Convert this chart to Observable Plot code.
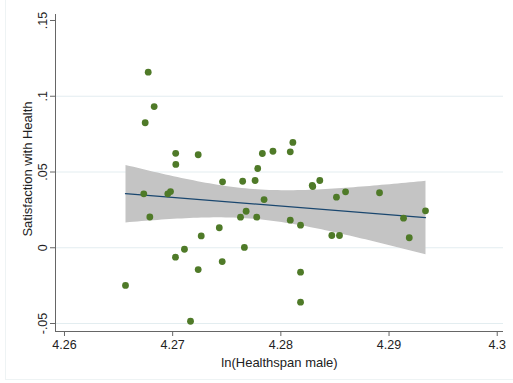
<!DOCTYPE html>
<html><head><meta charset="utf-8">
<script src="https://cdn.jsdelivr.net/npm/d3@7"></script>
<script src="https://cdn.jsdelivr.net/npm/@observablehq/plot@0.6"></script>
<style>
body{margin:0;background:#fff;}
#c{position:relative;width:513px;height:383px;overflow:hidden;}
#c svg{display:block;}
#frame{position:absolute;left:5px;top:-2px;width:520px;height:382px;border-left:1px solid #eef3f4;border-bottom:1px solid #eef3f4;box-sizing:border-box;pointer-events:none;}
</style>
</head><body><div id="c"><div id="frame"></div></div>
<script>
const healthspan = [4.26564,4.26774,4.26829,4.26746,4.26733,4.26789,4.27028,4.27029,4.26955,4.26980,
  4.27026,4.27109,4.27165,4.27236,4.27264,4.27236,4.27461,4.27431,4.27458,4.27647,
  4.27627,4.27679,4.27663,4.27762,4.27786,4.27829,4.27927,4.27845,4.27777,4.28087,
  4.28111,4.28087,4.28182,4.28182,4.28182,4.28290,4.28295,4.28360,4.28471,4.28542,
  4.28514,4.28598,4.28912,4.29134,4.29187,4.29337];
const satisfaction = [-0.0249,0.1159,0.0932,0.0825,0.0356,0.0203,0.0623,0.0550,0.0356,0.0371,
  -0.0062,-0.0010,-0.0485,0.0614,0.0078,-0.0144,0.0435,0.0132,-0.0091,0.0439,
  0.0202,0.0241,0.0002,0.0444,0.0523,0.0622,0.0637,0.0318,0.0202,0.0633,
  0.0695,0.0182,0.0149,-0.0161,-0.0359,0.0412,0.0404,0.0444,0.0081,0.0081,
  0.0334,0.0369,0.0363,0.0195,0.0066,0.0244];
const xTicks = [4.26, 4.27, 4.28, 4.29, 4.3];
const yTicks = [-0.05, 0, 0.05, 0.1, 0.15];
const gridTicks = [-0.05, 0, 0.05, 0.1];
const xLabel = "ln(Healthspan male)";
const yLabel = "Satisfaction with Health";

const data = healthspan.map((x, i) => ({x, y: satisfaction[i]}));
const fmtY = d => d === 0 ? "0" : String(d).replace("0.", ".");
const xDom = [4.25917, 4.30058];
const yDom = [-0.05528, 0.15396];
const axisColor = "#666";

const chart = Plot.plot({
  width: 513,
  height: 383,
  marginLeft: 55,
  marginRight: 10,
  marginTop: 14,
  marginBottom: 52,
  style: {fontFamily: "'Liberation Sans', Arial, sans-serif", fontSize: "12px", color: "#222", background: "#fff"},
  x: {domain: xDom},
  y: {domain: yDom},
  marks: [
    Plot.ruleY(gridTicks, {stroke: "#e3edf0", strokeWidth: 1}),
    Plot.linearRegressionY(data, {x: "x", y: "y", ci: 0.95, fill: "#c4c4c4", fillOpacity: 1, stroke: "#1a476f", strokeWidth: 1.3}),
    Plot.dot(data, {x: "x", y: "y", r: 3.4, fill: "#4f7a28", stroke: "none"}),
    Plot.ruleX([xDom[0]], {stroke: axisColor, strokeWidth: 1}),
    Plot.ruleY([yDom[0]], {stroke: axisColor, strokeWidth: 1}),
    Plot.axisX({ticks: xTicks, tickFormat: d => String(d), tickSize: 5, tickPadding: 4, stroke: axisColor, fill: "#222", label: null, fontSize: 12.5}),
    Plot.axisY({ticks: yTicks, tickFormat: () => "", tickSize: 5, stroke: axisColor, label: null}),
    Plot.text(yTicks, {y: d => d, text: fmtY, frameAnchor: "left", dx: -13, rotate: -90, textAnchor: "middle", lineAnchor: "middle", fill: "#222", fontSize: 12.5}),
    Plot.text([yLabel], {text: d => d, frameAnchor: "left", dx: -28, dy: -4, rotate: -90, textAnchor: "middle", lineAnchor: "middle", fill: "#222", fontSize: 13}),
    Plot.text([xLabel], {text: d => d, frameAnchor: "bottom", dy: 31, textAnchor: "middle", lineAnchor: "middle", fill: "#222", fontSize: 13})
  ]
});
document.getElementById("c").appendChild(chart);
</script>
</body></html>
